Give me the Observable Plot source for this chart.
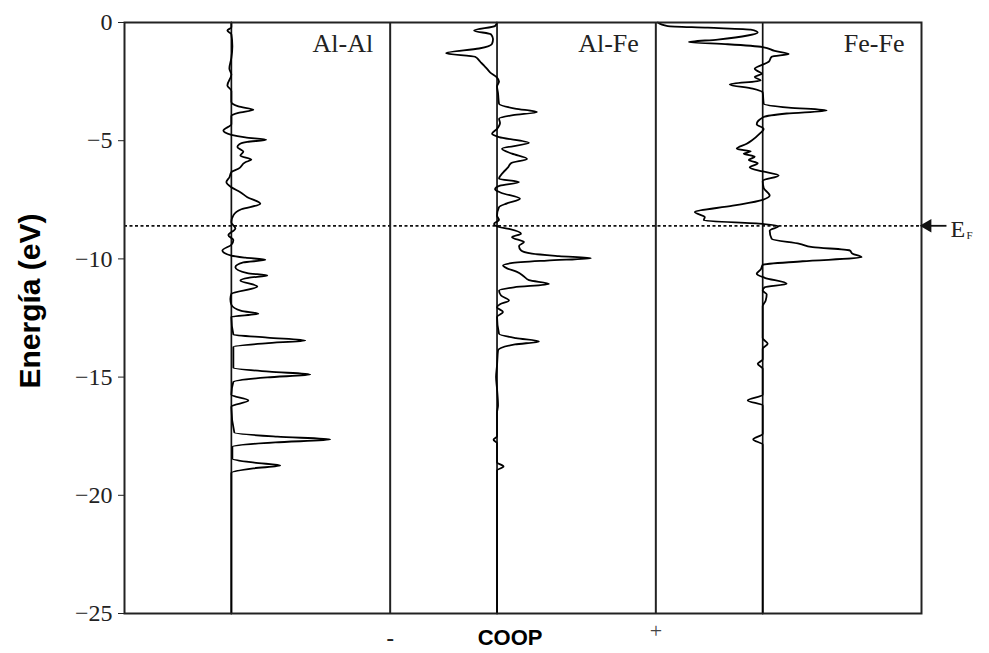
<!DOCTYPE html>
<html><head><meta charset="utf-8">
<script src="https://cdn.jsdelivr.net/npm/d3@7"></script>
<script src="https://cdn.jsdelivr.net/npm/@observablehq/plot@0.6"></script>
<style>body{margin:0;background:#fff}</style>
</head><body><div id="chart"></div>
<script>
// Bond pairs (one panel each)
const pairs = ["Al-Al", "Al-Fe", "Fe-Fe"];

// Al-Al COOP curve: energy (eV) and COOP (arbitrary units)
const alalE = [0,-0.2,-0.34,-0.5,-1.0,-1.5,-1.95,-2.2,-2.66,-2.9,-3.35,-3.55,-3.69,-3.82,-3.95,-4.3,-4.57,-4.75,-4.86,-4.96,-5.05,-5.15,-5.27,-5.46,-5.63,-5.8,-5.91,-6.19,-6.33,-6.55,-6.75,-6.97,-7.18,-7.39,-7.67,-7.9,-8.16,-8.45,-8.71,-9.0,-9.2,-9.4,-9.64,-9.86,-9.95,-10.04,-10.15,-10.35,-10.6,-10.70,-10.8,-10.91,-11.17,-11.48,-11.7,-11.94,-12.2,-12.32,-12.45,-13.2,-13.33,-13.45,-13.57,-13.72,-14.6,-14.77,-14.89,-15.01,-15.2,-15.75,-15.99,-16.25,-17.35,-17.52,-17.64,-17.76,-17.95,-18.45,-18.62,-18.74,-18.86,-19.05,-25];
const alalC = [0,0,-0.04,0,0.01,0,-0.02,0,-0.04,0,0,0.07,0.22,0.07,0,0,-0.08,0,0.14,0.35,0.16,0.08,0.06,0.12,0.09,0.2,0.14,0.07,0,-0.02,-0.05,0,0.09,0.16,0.29,0.1,0.02,0,0.04,-0.03,0.02,0,-0.09,0,0.14,0.34,0.12,0.04,0.16,0.36,0.17,0.09,0.26,0,-0.01,0,0.1,0.27,0,0.02,0.36,0.74,0.34,0.02,0.02,0.38,0.79,0.36,0.02,0,0.17,0,0.03,0.46,0.99,0.44,0.01,0.01,0.23,0.49,0.22,0,0];

// Al-Fe COOP curve
const alfeE = [0,-0.15,-0.34,-0.5,-0.7,-0.9,-1.1,-1.30,-1.45,-1.6,-1.7,-1.82,-1.96,-2.11,-2.33,-2.5,-2.7,-3.0,-3.44,-3.64,-3.79,-3.92,-4.07,-4.25,-4.5,-4.71,-4.85,-5.09,-5.34,-5.55,-5.77,-5.95,-6.13,-6.35,-6.61,-6.75,-6.9,-7.05,-7.2,-7.46,-7.65,-7.81,-8.17,-8.35,-8.52,-8.65,-8.73,-8.94,-9.08,-9.29,-9.45,-9.64,-9.78,-9.88,-9.97,-10.07,-10.18,-10.28,-10.4,-10.55,-10.74,-10.9,-11.06,-11.2,-11.34,-11.55,-11.76,-11.92,-12.04,-12.25,-12.46,-13.17,-13.35,-13.49,-13.62,-13.87,-14.5,-15.0,-15.5,-16.2,-16.5,-17.5,-17.65,-17.8,-18.6,-18.78,-18.95,-25];
const alfeC = [0,-0.02,-0.23,-0.06,-0.04,-0.05,-0.18,-0.51,-0.22,-0.18,-0.16,-0.13,-0.10,-0.07,0,0.02,0,0.01,0.02,0.18,0.40,0.16,0.02,0.03,0,-0.05,0.02,0.32,0.05,0.15,0.30,0.14,0.11,0.06,0.02,0.22,0.03,-0.02,0.04,0.23,0.1,0.02,0,0.02,-0.03,0.02,0.12,0.24,0.15,0.27,0.22,0.24,0.35,0.62,0.94,0.5,0.14,0.06,0.1,0.2,0.27,0.32,0.52,0.17,0.02,0.04,0.12,0.03,0,0.06,0,0.02,0.19,0.42,0.18,0.01,0,-0.01,0,0.01,0,0,-0.035,0,0,0.065,0,0];

// Fe-Fe COOP curve
const fefeE = [0,-0.15,-0.22,-0.3,-0.42,-0.55,-0.72,-0.83,-0.92,-1.04,-1.2,-1.33,-1.45,-1.66,-1.96,-2.17,-2.31,-2.45,-2.62,-2.8,-2.96,-3.44,-3.6,-3.72,-3.85,-4.0,-4.3,-4.5,-4.7,-4.99,-5.13,-5.34,-5.45,-5.55,-5.68,-5.82,-5.95,-6.13,-6.3,-6.47,-6.7,-7.0,-7.32,-7.5,-7.75,-8.02,-8.23,-8.37,-8.52,-8.61,-8.81,-9.15,-9.36,-9.50,-9.64,-9.78,-9.93,-10.1,-10.25,-10.45,-10.63,-10.8,-11.05,-11.2,-11.34,-11.5,-11.76,-12.0,-13.35,-13.59,-13.8,-14.25,-14.44,-14.65,-15.75,-15.99,-16.2,-17.4,-17.64,-17.85,-25];
const fefeC = [-1.05,-0.95,-0.55,-0.12,-0.05,-0.15,-0.45,-0.74,-0.35,0,0.12,0.26,0.09,0.06,-0.08,-0.01,-0.08,-0.02,-0.33,-0.1,0,0.01,0.26,0.64,0.24,0.01,-0.06,0.01,-0.03,-0.11,-0.16,-0.26,-0.12,-0.19,-0.08,-0.14,-0.05,-0.13,0,0.16,0,0.01,0.07,0,-0.3,-0.68,-0.58,-0.59,0,0.16,0.07,0.09,0.37,0.5,0.87,0.9,0.99,0.4,0,-0.02,-0.06,0.02,0.24,0.02,0,0.04,0.03,0,0,0.05,0,0,-0.05,0,0,-0.15,0,0,-0.095,0,0];

const fermiEnergy = -8.6;
const yTicks = [0, -5, -10, -15, -20, -25];
const coopRange = [-1.07, 1.59]; // COOP range shown in each panel (arbitrary units)

const span = coopRange[1] - coopRange[0];
const xMax = pairs.length * span;
const zeroPos = pairs.map((p, i) => i * span - coopRange[0]);
const curves = [[alalE, alalC], [alfeE, alfeC], [fefeE, fefeC]];
const rows = [];
curves.forEach(([E, C], i) => E.forEach((e, j) => rows.push({pair: pairs[i], energy: e, pos: zeroPos[i] + C[j]})));

const serif = "'Liberation Serif', 'Times New Roman', serif";
const sans = "'Liberation Sans', Arial, sans-serif";

const chart = Plot.plot({
  width: 989, height: 653,
  marginLeft: 124, marginRight: 68, marginTop: 22, marginBottom: 40,
  x: {domain: [0, xMax], axis: null},
  y: {domain: [-25, 0], ticks: yTicks, tickSize: 6, tickPadding: 6,
      tickFormat: d => d < 0 ? "\u2212" + Math.abs(d) : String(d), label: null},
  style: {fontFamily: serif, fontSize: "24px", color: "#222", background: "#fff"},
  marks: [
    Plot.ruleY([fermiEnergy], {stroke: "#111", strokeWidth: 1.8, strokeDasharray: "3,2.5"}),
    Plot.ruleX(zeroPos, {stroke: "#111", strokeWidth: 1.7}),
    Plot.ruleX([span, 2 * span], {stroke: "#222", strokeWidth: 2}),
    Plot.line(rows, {x: "pos", y: "energy", z: "pair", curve: "monotone-y", stroke: "#000", strokeWidth: 1.8}),
    Plot.frame({stroke: "#222", strokeWidth: 2}),
    Plot.text(pairs, {x: (d, i) => (i + 1) * span, y: 0, text: d => d, textAnchor: "end", dx: -17, dy: 21, fontSize: 26, fontFamily: serif, fill: "#222"}),
    Plot.text(["Energía (eV)"], {frameAnchor: "left", textAnchor: "middle", dx: -94, dy: -17, rotate: -90, fontSize: 30, fontWeight: "bold", fontFamily: sans, fill: "#000"}),
    Plot.text(["-"], {x: span, frameAnchor: "bottom", dy: 32, fontSize: 24, fontFamily: sans, fill: "#222"}),
    Plot.text(["COOP"], {x: 3.86, frameAnchor: "bottom", dy: 31, fontSize: 22, fontWeight: "bold", fontFamily: sans, fill: "#000"}),
    Plot.text(["+"], {x: 2 * span, frameAnchor: "bottom", dy: 24, fontSize: 22, fontFamily: serif, fill: "#444"}),
    Plot.link([fermiEnergy], {x1: xMax + 0.25, x2: xMax + 0.06, y1: d => d, y2: d => d, stroke: "#111", strokeWidth: 1.8}),
    Plot.dot([fermiEnergy], {x: xMax + 0.06, y: d => d, symbol: "triangle", rotate: -90, r: 5, fill: "#111", stroke: "none"}),
    Plot.text(["E"], {x: xMax, y: fermiEnergy, dx: 29, dy: 4, textAnchor: "start", fontSize: 24, fontFamily: serif, fill: "#222"}),
    Plot.text(["F"], {x: xMax, y: fermiEnergy, dx: 45, dy: 10, textAnchor: "start", fontSize: 11, fontFamily: serif, fill: "#222"})
  ]
});
document.getElementById("chart").appendChild(chart);
</script>
</body></html>
